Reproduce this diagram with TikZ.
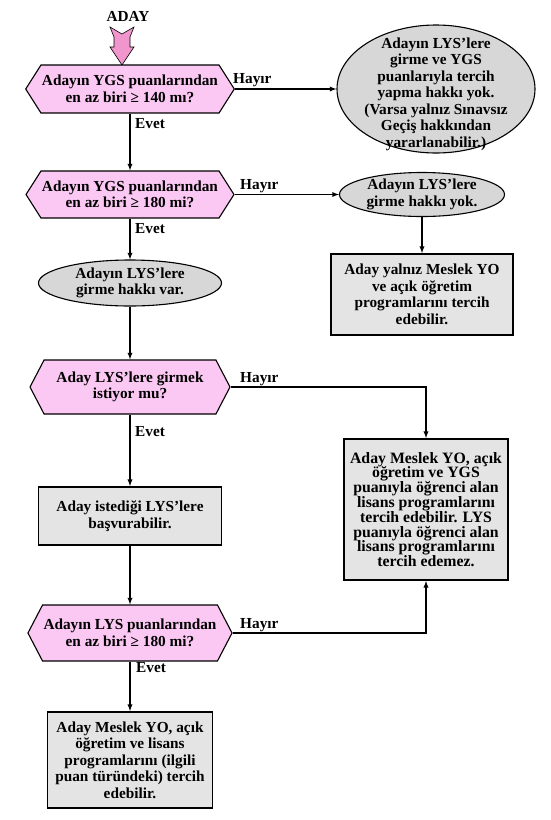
\documentclass[tikz,border=0pt]{standalone}
\usepackage{fontspec}
\setmainfont{Liberation Serif}
\usetikzlibrary{shapes.geometric,shapes.symbols}
\definecolor{hexpink}{RGB}{250,200,242}
\definecolor{arrpink}{RGB}{240,150,205}
\definecolor{ovalgray}{RGB}{215,215,215}
\definecolor{boxgray}{RGB}{228,228,228}
\tikzset{
	decision/.style={signal, signal to=east and west, signal pointer angle=115, draw, fill=hexpink, line width=1.1pt, minimum width=200pt, minimum height=48pt, inner sep=1pt, align=center},
	oval/.style={ellipse, draw, fill=ovalgray, line width=1.1pt, inner sep=0pt},
	result/.style={rectangle, draw, fill=boxgray, line width=1.8pt, inner sep=0pt, align=center},
	txt/.style={align=center, inner sep=0pt},
	lbl/.style={inner sep=0pt, anchor=west},
	flow/.style={-latex, line width=1.3pt},
}

\begin{document}
\begin{tikzpicture}[x=1pt, y=-1pt, font=\fontsize{15.3}{16.5}\selectfont\bfseries]
	\useasboundingbox (0,0) rectangle (550,820);
	\node[inner sep=0pt] (aday) at (128,16) {ADAY};
	\draw[fill=arrpink, line width=0.6pt] (110,27) -- (122,34) -- (134,27) -- (130,37) -- (130,47) -- (134,47) -- (122,65) -- (110,47) -- (114,47) -- (114,37) -- cycle;

	\node[decision] (ygs140) at (130,89) {Adayın YGS puanlarından\\en az biri ≥ 140 mı?};
	\node[decision, minimum height=47pt] (ygs180) at (130,194.5) {Adayın YGS puanlarından\\en az biri ≥ 180 mi?};
	\node[oval, minimum width=183pt, minimum height=46pt] (lysvar) at (130,283) {};
	\node[txt] at (lysvar) {Adayın LYS’lere\\girme hakkı var.};
	\node[decision, minimum height=54pt, signal pointer angle=125] (lysistek) at (130,387) {Aday LYS’lere girmek\\istiyor mu?};
	\node[result, minimum width=183pt, minimum height=58pt] (basvuru) at (130,516) {Aday istediği LYS’lere\\başvurabilir.};
	\node[decision, minimum height=56pt, signal pointer angle=125] (lys180) at (130,633) {Adayın LYS puanlarından\\en az biri ≥ 180 mi?};
	\node[result, minimum width=165pt, minimum height=96pt] (lisans) at (130,760) {Aday Meslek YO, açık\\öğretim ve lisans\\programlarını (ilgili\\puan türündeki) tercih\\edebilir.};

	\node[oval, minimum width=198pt, minimum height=128pt] (nohak) at (436,89) {};
	\node[txt] at (436,94) {Adayın LYS’lere\\girme ve YGS\\puanlarıyla tercih\\yapma hakkı yok.\\(Varsa yalnız Sınavsız\\Geçiş hakkından\\yararlanabilir.)};
	\node[oval, minimum width=165pt, minimum height=44pt] (lysyok) at (422,194.5) {};
	\node[txt] at (lysyok) {Adayın LYS’lere\\girme hakkı yok.};
	\node[result, minimum width=182pt, minimum height=81pt] (yalnizmyo) at (422,294.5) {Aday yalnız Meslek YO\\ve açık öğretim\\programlarını tercih\\edebilir.};
	\node[result, minimum width=164pt, minimum height=141pt, font=\fontsize{15.8}{14.8}\selectfont\bfseries] (ygslisans) at (426,509.5) {Aday Meslek YO, açık\\öğretim ve YGS\\puanıyla öğrenci alan\\lisans programlarını\\tercih edebilir. LYS\\puanıyla öğrenci alan\\lisans programlarını\\tercih edemez.};

	\draw[flow] (ygs140.south) -- (ygs180.north);
	\draw[flow] (ygs180.south) -- (lysvar.north);
	\draw[flow] (lysvar.south) -- (lysistek.north);
	\draw[flow] (lysistek.south) -- (basvuru.north);
	\draw[flow] (basvuru.south) -- (lys180.north);
	\draw[flow] (lys180.south) -- (lisans.north);
	\draw[flow] (ygs140.east) -- (nohak.west);
	\draw[flow] (ygs180.east) -- (lysyok.west);
	\draw[flow] (lysyok.south) -- (yalnizmyo.north);
	\draw[flow] (lysistek.east) -| (ygslisans.north);
	\draw[flow] (lys180.east) -| (ygslisans.south);

	\node[lbl] (hayir1) at (233,80) {Hayır};
	\node[lbl] (hayir2) at (240,186) {Hayır};
	\node[lbl] (hayir3) at (240,379) {Hayır};
	\node[lbl] (hayir4) at (240,625) {Hayır};
	\node[lbl] (evet1) at (135,124) {Evet};
	\node[lbl] (evet2) at (135,229) {Evet};
	\node[lbl] (evet3) at (135,432) {Evet};
	\node[lbl] (evet4) at (136,668) {Evet};
\end{tikzpicture}
\end{document}
